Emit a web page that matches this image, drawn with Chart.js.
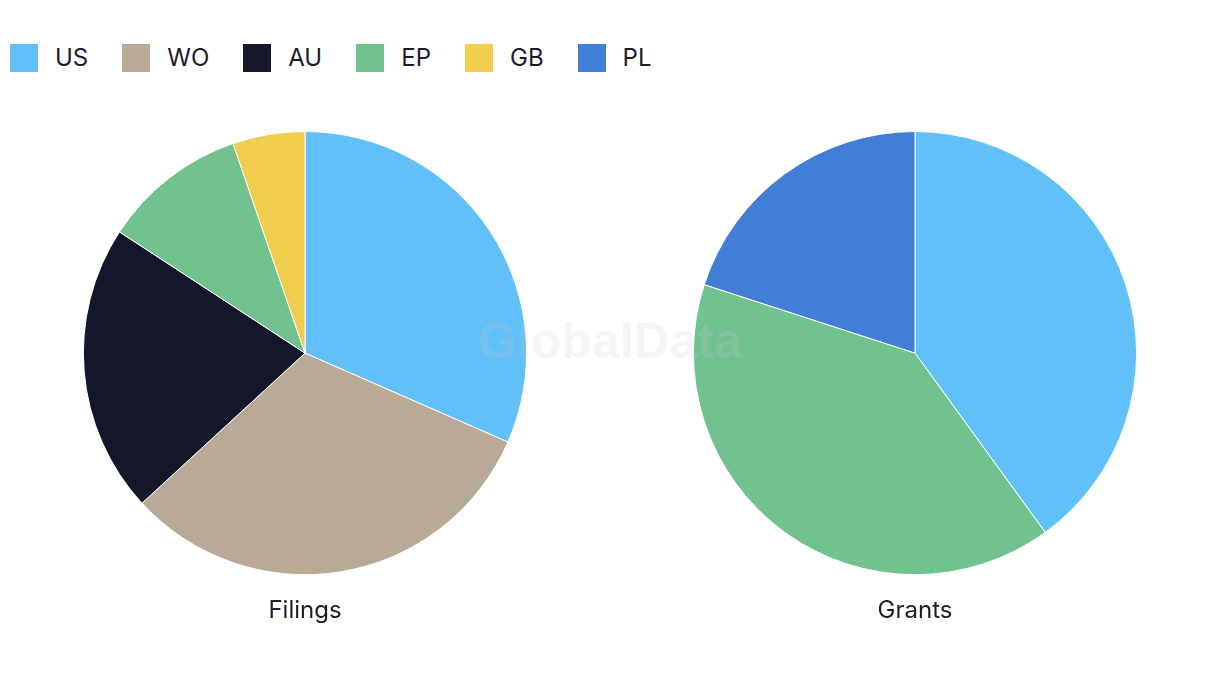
<!DOCTYPE html>
<html>
<head>
<meta charset="utf-8">
<script src="https://cdn.jsdelivr.net/npm/chart.js@4"></script>
<style>
body{margin:0;background:#fff;font-family:Inter,"Liberation Sans",sans-serif;color:#1b1b2e}
#wrap{position:relative;width:1220px;height:686px;overflow:hidden}
#legend{position:absolute;left:10px;top:43px;display:flex;align-items:center}
.item{display:flex;align-items:center;margin-right:34px;font-size:24px}
.box{width:28px;height:28px;margin-right:17px}
.pie{position:absolute;top:120px;width:610px;height:520px}
#mark{position:absolute;left:0;width:1220px;top:312px;text-align:center;font:bold 50px "Liberation Sans",Arial,sans-serif;color:rgba(200,200,200,0.18);pointer-events:none}
</style>
</head>
<body>
<div id="wrap">
<div id="legend"></div>
<div class="pie" style="left:0"><canvas id="filings"></canvas></div>
<div class="pie" style="left:610px"><canvas id="grants"></canvas></div>
<div id="mark">GlobalData</div>
</div>
<script>
// legend categories + colours
const countries = ["US","WO","AU","EP","GB","PL"]
const colors = ["#62c0f9","#b8aa96","#141629","#72c290","#f0cd4d","#427ed6"]

// Filings
const filingLabels = ["US","WO","AU","EP","GB"]
const filingValues = [6,6,4,2,1]

// Grants
const grantLabels = ["US","EP","PL"]
const grantValues = [2,2,1]

let legend = document.getElementById("legend")
countries.forEach((c,i)=>{
let d = document.createElement("div")
d.className = "item"
d.innerHTML = `<span class="box" style="background:${colors[i]}"></span>${c}`
legend.appendChild(d)
})

function colorFor(labels){
return labels.map(l => colors[countries.indexOf(l)])
}

function drawPie(id, title, labels, values){
let ctx = document.getElementById(id).getContext("2d")
return new Chart(ctx, {
type: "pie",
data: {
labels: labels,
datasets: [{
data: values,
backgroundColor: colorFor(labels),
borderColor: "#ffffff",
borderWidth: 1
}]
},
options: {
responsive: true,
maintainAspectRatio: false,
animation: false,
layout: { padding: { top: 11 } },
plugins: {
legend: { display: false },
tooltip: { enabled: false },
title: {
display: true,
text: title,
position: "bottom",
color: "#1b1b2e",
font: { family: "Inter", size: 24, weight: "normal" },
padding: { top: 21, bottom: 15 }
}
}
}
})
}

drawPie("filings", "Filings", filingLabels, filingValues)
drawPie("grants", "Grants", grantLabels, grantValues)
</script>
</body>
</html>
